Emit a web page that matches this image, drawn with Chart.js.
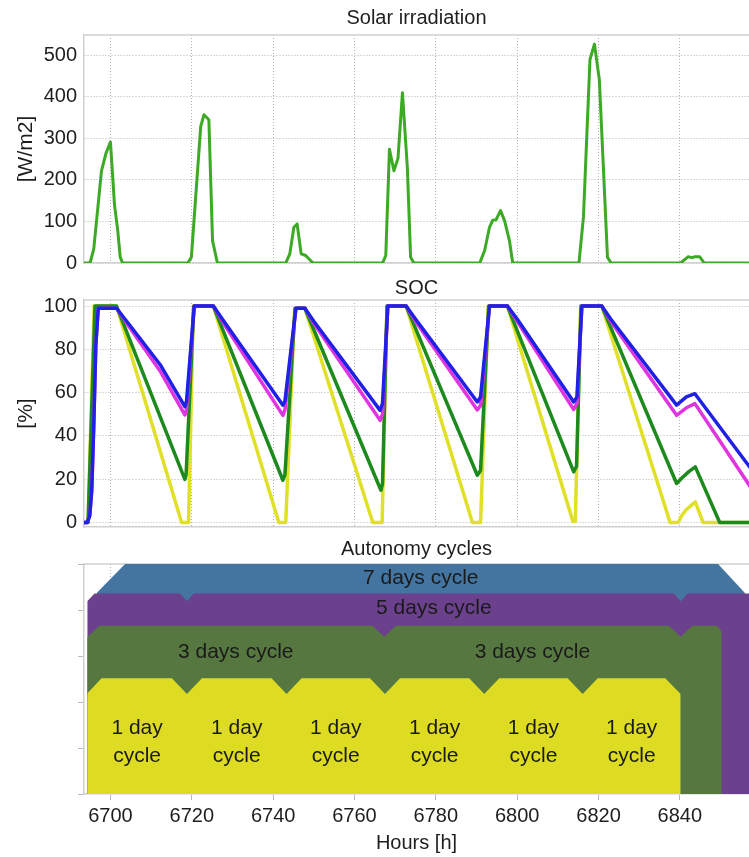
<!DOCTYPE html>
<html>
<head>
<meta charset="utf-8">
<script src="https://cdn.jsdelivr.net/npm/chart.js@4.4.1/dist/chart.umd.min.js"></script>
<style>
  html, body { margin: 0; padding: 0; background: #fff; }
  #wrap { position: relative; width: 749px; height: 857px; overflow: hidden; }
  canvas { position: absolute; left: 0; }
</style>
</head>
<body>
<div id="wrap">
  <canvas id="solar" width="749" height="290" style="top:0px"></canvas>
  <canvas id="soc" width="749" height="280" style="top:270px"></canvas>
  <canvas id="cycles" width="749" height="327" style="top:530px"></canvas>
</div>
<script>
// ---- Data -------------------------------------------------------------
const hourTicks = [6700, 6720, 6740, 6760, 6780, 6800, 6820, 6840];
const solarTicks = [0, 100, 200, 300, 400, 500];
const socTicks = [0, 20, 40, 60, 80, 100];
const cycleTicks = [0, 1, 2, 3, 4, 5];

// Solar irradiation [W/m2] as [hour, value]
const solarIrradiation = [
  [6693.5,0],[6695.0,0],[6695.9,34],[6697.8,222],[6698.9,264],[6700.0,291],[6701.0,140],[6701.8,78],[6702.4,14],[6703.0,0],
  [6719.0,0],[6719.9,14],[6722.2,329],[6723.0,357],[6724.2,345],[6725.1,54],[6726.3,0],
  [6743.1,0],[6744.1,22],[6745.1,86],[6745.9,94],[6746.9,22],[6748.0,18],[6749.8,0],
  [6766.9,0],[6767.7,18],[6768.6,274],[6769.7,222],[6770.7,252],[6771.8,410],[6773.0,230],[6773.8,14],[6774.6,0],
  [6790.8,0],[6792.0,30],[6793.2,86],[6794.0,103],[6794.8,104],[6795.9,126],[6796.9,102],[6798.1,54],[6798.9,0],
  [6815.2,0],[6816.3,111],[6817.9,490],[6819.0,527],[6820.2,442],[6821.0,272],[6822.2,14],[6823.1,0],
  [6840.2,0],[6842.0,15],[6843.0,13],[6843.7,15],[6844.9,15],[6846.0,0],[6858.0,0]
];

// State of charge [%] per storage size, as [hour, value]
const socBlue = [
  [6693.5,0],[6694.3,0],[6694.9,3],[6695.4,15],[6695.9,45],[6696.4,82],[6697.0,99],[6701.5,99],[6704.0,93],[6712.2,73],[6718.3,53.5],
  [6718.7,56],[6720.6,100],[6725.3,100],[6727.5,94],[6742.4,54.2],
  [6742.9,56],[6745.6,99],[6747.8,99],[6750.0,93],[6766.3,51.8],
  [6766.9,55],[6768.2,100],[6772.7,100],[6775.0,94],[6790.2,55.7],
  [6791.0,58],[6793.2,100],[6797.6,100],[6800.0,94],[6813.9,55.7],
  [6814.7,58],[6815.9,100],[6820.8,100],[6823.0,94],[6839.2,54.2],
  [6841.6,58],[6843.7,59.5],[6858.0,23.5]
];
const socMagenta = [
  [6693.5,0],[6694.3,0],[6694.9,3],[6695.4,15],[6695.9,45],[6696.4,82],[6697.0,99],[6701.5,99],[6704.0,92],[6712.2,70],[6718.3,49.7],
  [6718.7,52],[6720.6,100],[6725.3,100],[6727.5,93],[6742.4,49.5],
  [6742.9,52],[6745.6,99],[6747.8,99],[6750.0,92],[6766.3,47.2],
  [6766.9,50],[6768.2,100],[6772.7,100],[6775.0,93],[6790.2,52],
  [6791.0,54],[6793.2,100],[6797.6,100],[6800.0,93],[6813.9,52.2],
  [6814.7,55],[6815.9,100],[6820.8,100],[6823.0,93],[6839.2,49.5],
  [6841.6,53],[6843.7,54.9],[6858.0,14.6]
];
const socGreen = [
  [6693.5,0],[6694.5,0],[6696.2,100],[6701.5,100],[6718.3,19.9],
  [6718.6,22],[6720.5,100],[6725.3,100],[6742.4,19.5],
  [6742.9,22],[6745.4,99],[6747.8,99],[6766.5,14.9],
  [6766.9,18],[6768.0,100],[6772.7,100],[6790.2,21.8],
  [6791.0,24],[6793.0,100],[6797.6,100],[6813.9,23.4],
  [6814.6,26],[6815.7,100],[6820.8,100],[6839.2,18],
  [6840.5,20.5],[6842.2,23.5],[6843.8,25.7],[6849.8,0],[6858.0,0]
];
const socYellow = [
  [6693.5,0],[6694.5,0],[6696.0,100],[6701.5,100],[6717.5,0],
  [6719.2,0],[6720.4,100],[6725.3,100],[6741.4,0],
  [6743.1,0],[6745.3,99],[6747.8,99],[6764.5,0],
  [6766.8,0],[6768.0,100],[6772.7,100],[6789.0,0],
  [6791.0,0],[6792.9,100],[6797.6,100],[6813.7,0.5],
  [6814.3,0.5],[6815.6,100],[6820.8,100],[6837.6,0],
  [6839.6,0],[6840.4,3],[6841.6,6],[6843.8,9.5],[6845.7,0],[6858.0,0]
];

// Autonomy cycle block boundaries [h]
const oneDayBounds = [6694.3, 6718.8, 6743.3, 6767.5, 6791.9, 6816.1, 6840.2];
const threeDayBounds = [6694.3, 6767.3, 6840.2, 6850.3];
const fiveDayBounds = [6694.3, 6718.8, 6840.2, 6880.0];
const sevenDayBounds = [6696.6, 6856.0];

// Which blocks carry a caption
const oneDayLabelled = [0, 1, 2, 3, 4, 5];
const threeDayLabelled = [0, 1];
const fiveDayLabelled = [1];
const sevenDayLabelled = [0];

// ---- Styling ----------------------------------------------------------
const FONT = "'Liberation Sans', Arial, sans-serif";
const TEXT = '#1e1e1e';
const GRID = '#b4b4b4';
const FRAME = '#cfcfcf';
const X_MIN = 6693.5, X_MAX = 6857;
Chart.defaults.font.family = FONT;
Chart.defaults.color = TEXT;

const rowStyle = {
  one:   { color: '#dedc22', top: 2.515, depth: 0.34, half: 3.7, startDepth: 0.33, startHalf: 3.5, endDepth: 0.34, endHalf: 3.8, textY: [1.43, 0.83] },
  three: { color: '#567840', top: 3.66, depth: 0.24, half: 2.9, startDepth: 0.25, startHalf: 3.0, endDepth: 0.13, endHalf: 1.2, textY: [3.09] },
  five:  { color: '#6b418d', top: 4.36, depth: 0.17, half: 1.7, startDepth: 0.17, startHalf: 1.8, endDepth: 0.17, endHalf: 1.7, textY: [4.04] },
  seven: { color: '#4475a1', top: 5.0, depth: 0, half: 0, startDepth: 0.63, startHalf: 7.0, endDepth: 0.63, endHalf: 6.6, textY: [4.70] }
};

const toXY = arr => arr.map(p => ({ x: p[0], y: p[1] }));

// Top edge of a row of chamfered blocks, closed down to the baseline
function rowProfile(bounds, s) {
  const n = bounds.length;
  const pts = [{ x: bounds[0], y: 0 }, { x: bounds[0], y: s.top - s.startDepth }, { x: bounds[0] + s.startHalf, y: s.top }];
  for (let i = 1; i < n - 1; i++) {
    pts.push({ x: bounds[i] - s.half, y: s.top });
    pts.push({ x: bounds[i], y: s.top - s.depth });
    pts.push({ x: bounds[i] + s.half, y: s.top });
  }
  pts.push({ x: bounds[n - 1] - s.endHalf, y: s.top });
  pts.push({ x: bounds[n - 1], y: s.top - s.endDepth });
  pts.push({ x: bounds[n - 1], y: 0 });
  return pts;
}

function xScale(height, opts) {
  return Object.assign({
    type: 'linear', min: X_MIN, max: X_MAX,
    afterBuildTicks: s => { s.ticks = hourTicks.map(v => ({ value: v })); },
    ticks: { display: false },
    grid: { color: GRID, lineWidth: 1, drawTicks: false },
    border: { display: true, color: FRAME, width: 1.5, dash: [1, 2] },
    afterFit: s => { s.height = height; }
  }, opts || {});
}

function yScale(min, max, ticks, title, opts) {
  return Object.assign({
    type: 'linear', min: min, max: max,
    afterBuildTicks: s => { s.ticks = ticks.map(v => ({ value: v })); },
    ticks: { padding: 7, font: { size: 20 }, color: TEXT, callback: v => String(v) },
    grid: { color: GRID, lineWidth: 1, drawTicks: false },
    border: { display: true, color: FRAME, width: 1.5, dash: [1, 2] },
    title: { display: !!title, text: title, font: { size: 21 }, color: TEXT, padding: { top: 14, bottom: 0 } },
    afterFit: s => { s.width = 84; }
  }, opts || {});
}

function titleOpts(text, top, bottom) {
  return { display: true, text: text, fullSize: false, color: TEXT,
           font: { size: 20, weight: 'normal' }, padding: { top: top, bottom: bottom } };
}

// Light frame line along the top of the plotting area
const topFrame = {
  id: 'topFrame',
  beforeDatasetsDraw(chart) {
    const a = chart.chartArea, ctx = chart.ctx;
    ctx.save();
    ctx.strokeStyle = FRAME;
    ctx.lineWidth = 1.5;
    ctx.beginPath();
    ctx.moveTo(a.left, a.top);
    ctx.lineTo(a.right, a.top);
    ctx.stroke();
    ctx.restore();
  }
};

const common = {
  responsive: false,
  animation: false,
  devicePixelRatio: 1,
  layout: { padding: 0 },
  elements: { point: { radius: 0 }, line: { tension: 0, borderJoinStyle: 'round', borderCapStyle: 'round' } }
};

// ---- Solar irradiation ------------------------------------------------
new Chart(document.getElementById('solar'), {
  type: 'line',
  data: { datasets: [{ data: toXY(solarIrradiation), borderColor: '#3caa24', borderWidth: 3, fill: false }] },
  options: Object.assign({}, common, {
    scales: {
      x: xScale(27),
      y: yScale(0, 549, solarTicks, '[W/m2]')
    },
    plugins: { legend: { display: false }, tooltip: { enabled: false }, title: titleOpts('Solar irradiation', 6, 5) }
  }),
  plugins: [topFrame]
});

// ---- SOC --------------------------------------------------------------
new Chart(document.getElementById('soc'), {
  type: 'line',
  data: { datasets: [
    { data: toXY(socBlue), borderColor: '#2121e6', borderWidth: 3.5, fill: false },
    { data: toXY(socMagenta), borderColor: '#e034e0', borderWidth: 3.5, fill: false },
    { data: toXY(socGreen), borderColor: '#1d8a1d', borderWidth: 3.5, fill: false },
    { data: toXY(socYellow), borderColor: '#e0e028', borderWidth: 3.5, fill: false }
  ] },
  options: Object.assign({}, common, {
    scales: {
      x: xScale(23),
      y: yScale(-2.1, 102.8, socTicks, '[%]')
    },
    plugins: { legend: { display: false }, tooltip: { enabled: false }, title: titleOpts('SOC', 6, 0) }
  }),
  plugins: [topFrame]
});

// ---- Autonomy cycles --------------------------------------------------
const rows = [
  { key: 'one', bounds: oneDayBounds, labelled: oneDayLabelled, text: ['1 day', 'cycle'] },
  { key: 'three', bounds: threeDayBounds, labelled: threeDayLabelled, text: ['3 days cycle'] },
  { key: 'five', bounds: fiveDayBounds, labelled: fiveDayLabelled, text: ['5 days cycle'] },
  { key: 'seven', bounds: sevenDayBounds, labelled: sevenDayLabelled, text: ['7 days cycle'] }
];

const cycleCaptions = {
  id: 'cycleCaptions',
  afterDatasetsDraw(chart) {
    const ctx = chart.ctx, xs = chart.scales.x, ys = chart.scales.y;
    ctx.save();
    ctx.fillStyle = '#1a1a1a';
    ctx.font = '21px ' + FONT;
    ctx.textAlign = 'center';
    ctx.textBaseline = 'middle';
    rows.forEach(r => {
      const st = rowStyle[r.key];
      r.labelled.forEach(i => {
        const mid = (r.bounds[i] + r.bounds[i + 1]) / 2;
        r.text.forEach((t, k) => {
          ctx.fillText(t, xs.getPixelForValue(mid), ys.getPixelForValue(st.textY[k]));
        });
      });
    });
    ctx.restore();
  }
};

new Chart(document.getElementById('cycles'), {
  type: 'line',
  data: { datasets: rows.map(r => ({
    data: rowProfile(r.bounds, rowStyle[r.key]),
    borderColor: rowStyle[r.key].color,
    backgroundColor: rowStyle[r.key].color,
    borderWidth: 0,
    fill: 'origin'
  })) },
  options: Object.assign({}, common, {
    scales: {
      x: xScale(63, {
        ticks: { display: true, padding: 4, font: { size: 20 }, color: TEXT, maxRotation: 0, callback: v => String(v) },
        grid: { color: GRID, lineWidth: 1, drawTicks: true, tickLength: 6, tickColor: '#b8b8b8' },
        title: { display: true, text: 'Hours [h]', font: { size: 20 }, color: TEXT, padding: { top: 0, bottom: 2 } }
      }),
      y: yScale(0, 5, cycleTicks, '', {
        ticks: { display: false },
        grid: { drawOnChartArea: false, drawTicks: true, tickLength: 6, tickColor: '#b8b8b8' }
      })
    },
    plugins: { legend: { display: false }, tooltip: { enabled: false }, title: titleOpts('Autonomy cycles', 7, 3) }
  }),
  plugins: [topFrame, cycleCaptions]
});
</script>
</body>
</html>
